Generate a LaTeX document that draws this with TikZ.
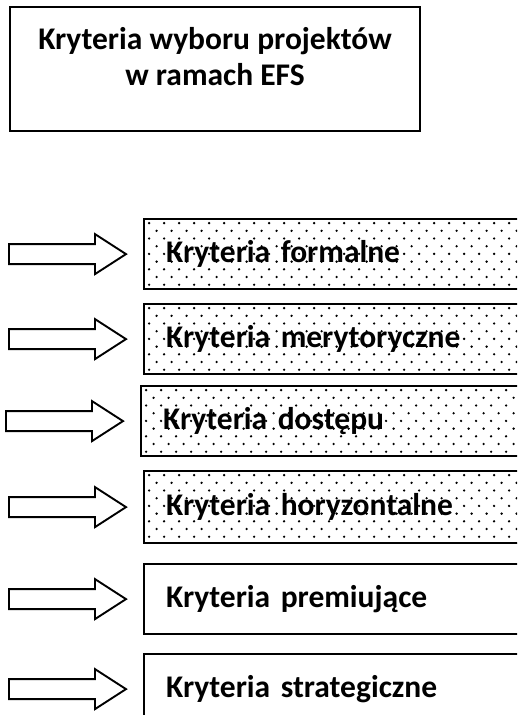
\documentclass[tikz,border=0pt]{standalone}
\usepackage{fontspec}
\setmainfont{Carlito}
\begin{document}
\begin{tikzpicture}[x=1pt,y={(0,-1pt)},
  titlebox/.style={draw, line width=2pt, anchor=north west, minimum width=410pt, minimum height=124pt,
    inner sep=0pt, align=center, font=\bfseries\fontsize{31.5}{36}\selectfont, text depth=25pt},
  critbox/.style={draw, line width=2.2pt, anchor=north west, minimum width=400pt, minimum height=70pt,
    inner xsep=22pt, inner ysep=0pt, text width=356pt, align=left, font=\bfseries\fontsize{31.5}{36}\selectfont},
  dotted box/.style={path picture={
    \foreach \r [evaluate=\r as \off using {mod(\r,2)*7.5}] in {0,...,9}
      \foreach \c in {0,...,27}
        \fill ([shift={(\c*15+\off+5,\r*7.7+4)}]path picture bounding box.north west) circle (1.3pt);}},
  fatarrow/.style={draw, line width=1.9pt, fill=white, line join=miter}
]
\useasboundingbox (0,0) rectangle (517,715);
\clip (0,0) rectangle (517,715);
\fill[white] (0,0) rectangle (517,715);

\node[titlebox] (title) at (9,6) {Kryteria wyboru projektów\\w ramach EFS};

\node[critbox, dotted box] (b1) at (143,218) {Kryteria formalne};
\node[critbox, dotted box] (b2) at (143,303) {Kryteria merytoryczne};
\node[critbox, dotted box] (b3) at (140,385) {Kryteria dostępu};
\node[critbox, dotted box, minimum height=72pt] (b4) at (143,470) {Kryteria horyzontalne};
\node[critbox] (b5) at (143,563) {Kryteria premiujące};
\node[critbox] (b6) at (143,653) {Kryteria strategiczne};

\foreach \b in {b1,b2,b3,b4,b5,b6}{
  \coordinate (\b tip) at ([xshift=-17pt]\b.west);
  \draw[fatarrow] (\b tip) -- ++(-31,-20) -- ++(0,10) -- ++(-86,0) -- ++(0,20) -- ++(86,0) -- ++(0,10) -- cycle;
}
\end{tikzpicture}
\end{document}
